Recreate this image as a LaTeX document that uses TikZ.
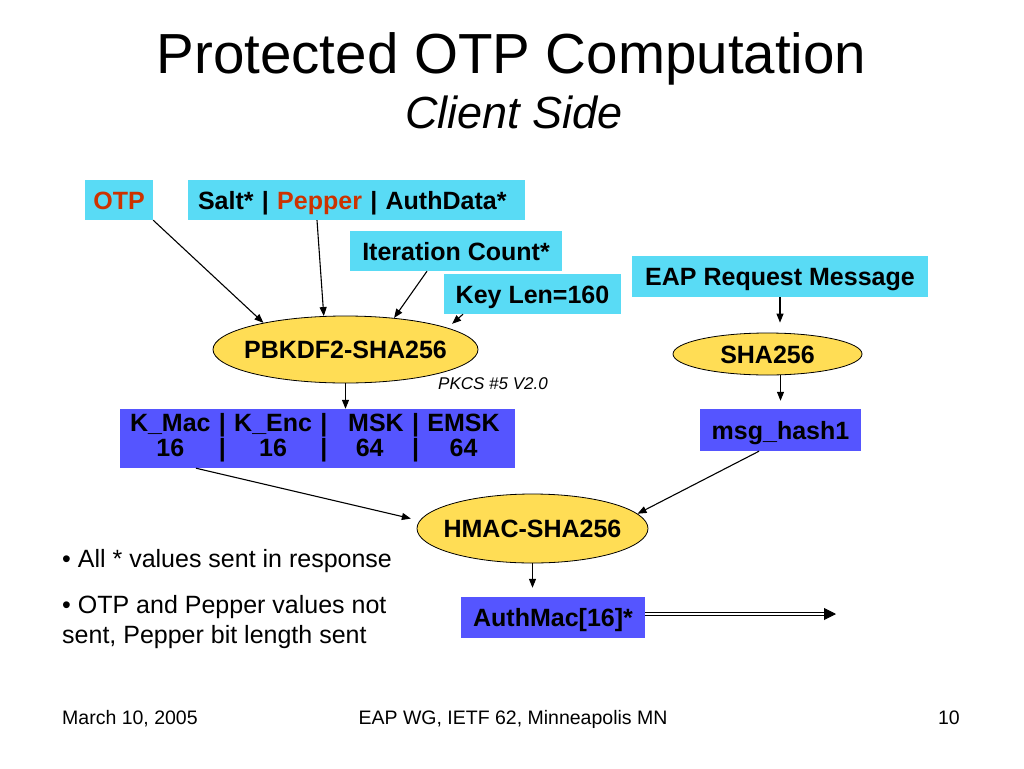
\documentclass[tikz,border=0pt]{standalone}
\usepackage{fontspec}
\setmainfont{Liberation Sans}
\usetikzlibrary{shapes.geometric,arrows.meta}
\definecolor{boxcyan}{RGB}{89,219,245}
\definecolor{boxblue}{RGB}{85,85,255}
\definecolor{hashyellow}{RGB}{255,221,85}
\definecolor{otpred}{RGB}{204,51,0}
\newcommand{\fnlabel}[1]{\makebox[0pt]{#1}}

\begin{document}
\begin{tikzpicture}[x=1pt,y=-1pt,
    boxfont/.style={font=\bfseries\fontsize{25}{24}\selectfont},
    inbox/.style={boxfont, fill=boxcyan, inner sep=0pt, text height=18pt, text depth=0pt},
    outbox/.style={boxfont, fill=boxblue, inner sep=0pt, text height=18pt, text depth=0pt},
    keybox/.style={boxfont, fill=boxblue, inner ysep=0pt},
    hashfn/.style={boxfont, ellipse, draw=black, line width=0.8pt, fill=hashyellow, inner sep=0pt, text height=18pt, text depth=0pt},
    flow/.style={line width=1.1pt, -{Triangle[length=9pt,width=7pt]}},
    sendflow/.style={line width=0.9pt, double, double distance=2.2pt, -{Triangle[length=12pt,width=12pt]}}]
        \useasboundingbox (0,0) rectangle (1024,768);
        \fill[white] (0,0) rectangle (1024,768);

        % title
        \node[anchor=base, font=\fontsize{56.5}{60}\selectfont] (title) at (511.5,73) {Protected OTP Computation};
        \node[anchor=base, font=\itshape\fontsize{45}{50}\selectfont] (subtitle) at (514,128) {Client Side};

        % inputs
        \node[inbox, minimum width=68, minimum height=40] (otp) at (119,200) {\color{otpred}OTP};
        \node[inbox, text width=317, inner xsep=10, align=left, minimum height=40] (salt) at (356.5,200) {Salt* | {\color{otpred}Pepper} | AuthData*};
        \node[inbox, minimum width=212, minimum height=40] (iter) at (456,251) {Iteration Count*};
        \node[inbox, minimum width=177, minimum height=40] (keylen) at (532.5,294) {Key Len=160};
        \node[inbox, minimum width=296, minimum height=41] (eap) at (780,276.5) {EAP Request Message};

        % hash functions
        \node[hashfn, minimum width=265, minimum height=67] (pbkdf) at (345.5,349.5) {\fnlabel{PBKDF2-SHA256}};
        \node[hashfn, minimum width=189, minimum height=42] (sha) at (767.5,354) {\fnlabel{SHA256}};
        \node[hashfn, minimum width=231, minimum height=69] (hmac) at (532.5,528.5) {\fnlabel{HMAC-SHA256}};
        \node[anchor=base west, inner sep=0pt, font=\itshape\fontsize{17}{20}\selectfont] (pkcs) at (438,389) {PKCS \#5 V2.0};

        % outputs
        \node[keybox, text width=375, inner xsep=10, align=left, minimum height=59] (keys) at (317.5,438.5)
            {\begin{tabular}{@{}c@{ | }c@{ | }c@{ | }c@{}}
             K\_Mac & K\_Enc & \hspace{0.5em}MSK & EMSK\\
             16 & 16 & 64 & 64
             \end{tabular}};
        \node[outbox, minimum width=161, minimum height=42] (msg) at (780.5,430) {msg\_hash1};
        \node[outbox, minimum width=184, minimum height=41] (auth) at (553,617.5) {AuthMac[16]*};
        \coordinate (sent) at (836,614);

        \draw[flow] (otp.south east) -- (pbkdf.162);
        \draw[flow] ([xshift=-39.5pt]salt.south) -- (pbkdf.123);
        \draw[flow] ([xshift=-29pt]iter.south) -- (pbkdf.33);
        \draw[flow, shorten >=6pt] ([xshift=-69.5pt]keylen.south) -- (pbkdf.12);
        \draw[flow] (pbkdf.south) -- (pbkdf.south |- keys.north);
        \draw[flow, shorten >=10pt] (eap.south) -- (eap.south |- sha.north);
        \draw[flow, shorten >=8pt] (msg.north |- sha.south) -- (msg.north);
        \draw[flow, shorten >=9pt] ([xshift=-121.5pt]keys.south) -- (hmac.176);
        \draw[flow] ([xshift=-21.5pt]msg.south) -- (hmac.8);
        \draw[flow, shorten >=9pt] (hmac.south) -- (hmac.south |- auth.north);
        \draw[sendflow] (auth.east |- sent) -- (sent);

        % notes
        \node[anchor=base west, inner sep=0pt, font=\fontsize{25}{30}\selectfont] (note1) at (62,567) {• All * values sent in response};
        \node[anchor=north west, inner sep=0pt, align=left, font=\fontsize{25}{30}\selectfont] (note2) at (62,595) {• OTP and Pepper values not\\sent, Pepper bit length sent};

        % footer
        \node[anchor=base west, inner sep=0pt, font=\fontsize{19.5}{22}\selectfont] (date) at (62,724) {March 10, 2005};
        \node[anchor=base, inner sep=0pt, font=\fontsize{19.5}{22}\selectfont] (venue) at (513,724) {EAP WG, IETF 62, Minneapolis MN};
        \node[anchor=base east, inner sep=0pt, font=\fontsize{19.5}{22}\selectfont] (page) at (960,724) {10};
\end{tikzpicture}
\end{document}
